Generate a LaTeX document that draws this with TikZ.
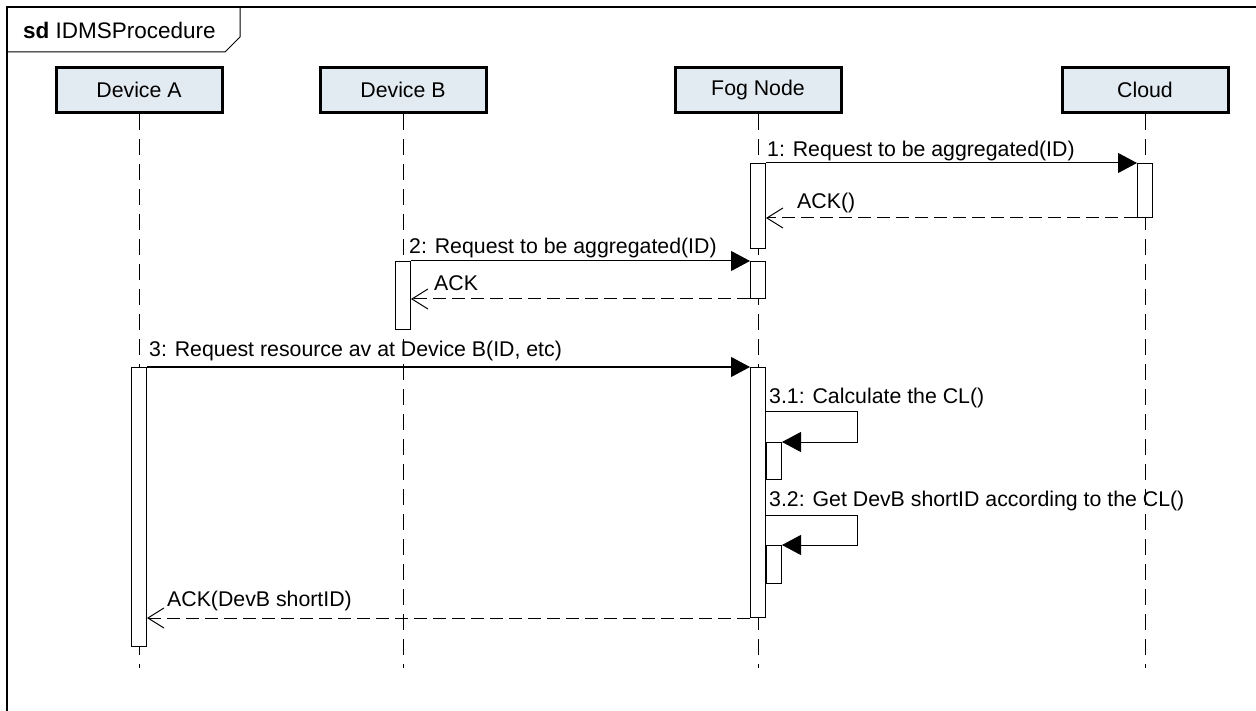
\documentclass[tikz,border=0pt]{standalone}
\usepackage{fontspec}
\setmainfont{Liberation Sans}
\usetikzlibrary{arrows.meta}

\definecolor{headfill}{RGB}{227,235,242}

\tikzset{
  lifehead/.style={draw, line width=3pt, fill=headfill,
    minimum width=166pt, minimum height=45pt, inner sep=0pt},
  lifeline/.style={line width=1pt, dash pattern=on 16pt off 9pt},
  actbox/.style={draw, line width=1pt, fill=white,
    minimum width=15pt, inner sep=0pt, anchor=north},
  call/.style={line width=1pt, -{Triangle[length=19pt,width=20pt]}},
  reply/.style={line width=1pt, dash pattern=on 13pt off 6pt,
    -{Straight Barb[length=16pt,width=20pt]}},
  msglabel/.style={anchor=base west, inner sep=0pt}
}

\begin{document}
\begin{tikzpicture}[x=1pt, y=-1pt, font=\fontsize{21.3}{25}\selectfont]

\useasboundingbox (0,0) rectangle (1256,711);

%%%%%%%%%%%%%%%%%%%%%%%%%%%%%%%%%%%%%%%%%%%%%%%%%%%%%%
% FRAME
%%%%%%%%%%%%%%%%%%%%%%%%%%%%%%%%%%%%%%%%%%%%%%%%%%%%%%

\draw[line width=1.3pt] (7,711) -- (7,7) -- (1256,7);
\draw[line width=1pt] (7,52) -- (225,52) -- (240,37) -- (240,7);

\node[msglabel, font=\fontsize{22.5}{26}\selectfont]
(title) at (23,39) {\textbf{sd} IDMSProcedure};

%%%%%%%%%%%%%%%%%%%%%%%%%%%%%%%%%%%%%%%%%%%%%%%%%%%%%%
% LIFELINES
%%%%%%%%%%%%%%%%%%%%%%%%%%%%%%%%%%%%%%%%%%%%%%%%%%%%%%

\node[lifehead] (devA) at (139,90) {Device A};
\node[lifehead] (devB) at (403,90) {Device B};
\node[lifehead] (fog) at (758,90) {Fog Node};
\node[lifehead] (cloud) at (1145,90) {Cloud};

\coordinate (lifeend) at (0,668);

\draw[lifeline] (devA.south) -- (devA.south |- lifeend);
\draw[lifeline] (devB.south) -- (devB.south |- lifeend);
\draw[lifeline] (fog.south) -- (fog.south |- lifeend);
\draw[lifeline] (cloud.south) -- (cloud.south |- lifeend);

%%%%%%%%%%%%%%%%%%%%%%%%%%%%%%%%%%%%%%%%%%%%%%%%%%%%%%
% ACTIVATIONS
%%%%%%%%%%%%%%%%%%%%%%%%%%%%%%%%%%%%%%%%%%%%%%%%%%%%%%

\node[actbox, minimum height=85pt] (fog1) at (758,163) {};
\node[actbox, minimum height=54pt] (cloud1) at (1145,163) {};

\node[actbox, minimum height=68pt] (devB1) at (403,261) {};
\node[actbox, minimum height=37pt] (fog2) at (758,261) {};

\node[actbox, minimum height=279pt] (devA1) at (139,367) {};
\node[actbox, minimum height=250pt] (fog3) at (758,367) {};

\node[actbox, anchor=north west, minimum height=37pt]
(self1) at (fog3.east |- 0,442) {};
\node[actbox, anchor=north west, minimum height=38pt]
(self2) at (fog3.east |- 0,545) {};

%%%%%%%%%%%%%%%%%%%%%%%%%%%%%%%%%%%%%%%%%%%%%%%%%%%%%%
% MESSAGE 1
%%%%%%%%%%%%%%%%%%%%%%%%%%%%%%%%%%%%%%%%%%%%%%%%%%%%%%

\draw[call] (fog1.north east) -- (cloud1.north west);
\node[msglabel] (m1) at (767,157) {1: Request to be aggregated(ID)};

\draw[reply] (cloud1.south west) -- (cloud1.south west -| fog1.east);
\node[msglabel] (r1) at (797,209) {ACK()};

%%%%%%%%%%%%%%%%%%%%%%%%%%%%%%%%%%%%%%%%%%%%%%%%%%%%%%
% MESSAGE 2
%%%%%%%%%%%%%%%%%%%%%%%%%%%%%%%%%%%%%%%%%%%%%%%%%%%%%%

\draw[call] (devB1.north east) -- (fog2.north west);
\node[msglabel] (m2) at (409,254) {2: Request to be aggregated(ID)};

\draw[reply] (fog2.south west) -- (fog2.south west -| devB1.east);
\node[msglabel] (r2) at (434,291) {ACK};

%%%%%%%%%%%%%%%%%%%%%%%%%%%%%%%%%%%%%%%%%%%%%%%%%%%%%%
% MESSAGE 3
%%%%%%%%%%%%%%%%%%%%%%%%%%%%%%%%%%%%%%%%%%%%%%%%%%%%%%

\draw[call] (devA1.north east) -- (fog3.north west);
\node[msglabel] (m3) at (149,356) {3: Request resource av at Device B(ID, etc)};

\draw[call] (fog3.east |- 0,411) -- ++(91,0) |- (self1.north east);
\node[msglabel] (m31) at (769,403) {3.1: Calculate the CL()};

\draw[call] (fog3.east |- 0,515) -- ++(91,0) |- (self2.north east);
\node[msglabel] (m32) at (769,506) {3.2: Get DevB shortID according to the CL()};

\draw[reply] (fog3.south west) -- (fog3.south west -| devA1.east);
\node[msglabel] (r3) at (167,606) {ACK(DevB shortID)};

\end{tikzpicture}
\end{document}
